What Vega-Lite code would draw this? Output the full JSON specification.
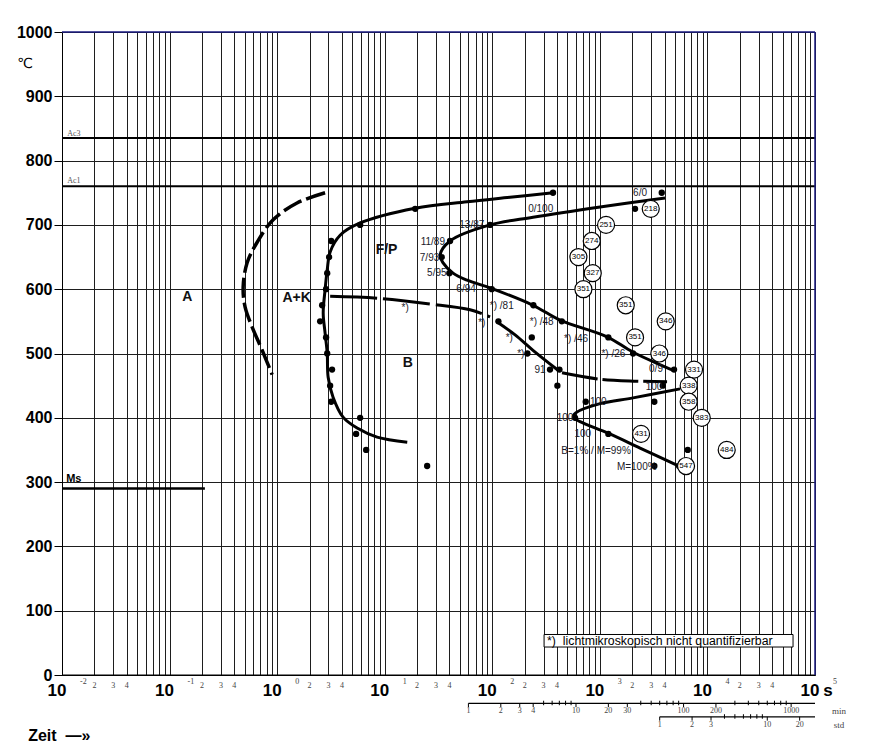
{
  "$schema": "https://vega.github.io/schema/vega-lite/v6.json",
  "width": 753,
  "height": 643,
  "autosize": {"type": "none"},
  "padding": {"left": 62, "top": 32, "right": 62, "bottom": 77},
  "background": "white",
  "config": {"view": {"stroke": null}, "font": "Liberation Sans"},
  "datasets": {
    "curves": [
      {"c": "A", "i": 0, "t": 2.79, "T": 750}, {"c": "A", "i": 1, "t": 1.53, "T": 734}, {"c": "A", "i": 2, "t": 0.918, "T": 708}, {"c": "A", "i": 3, "t": 0.652, "T": 673}, {"c": "A", "i": 4, "t": 0.526, "T": 641}, {"c": "A", "i": 5, "t": 0.483, "T": 603}, {"c": "A", "i": 6, "t": 0.504, "T": 572}, {"c": "A", "i": 7, "t": 0.586, "T": 541}, {"c": "A", "i": 8, "t": 0.726, "T": 505}, {"c": "A", "i": 9, "t": 0.899, "T": 467},
      {"c": "FP", "i": 0, "t": 367, "T": 750}, {"c": "FP", "i": 1, "t": 146, "T": 743}, {"c": "FP", "i": 2, "t": 58.3, "T": 736}, {"c": "FP", "i": 3, "t": 19.2, "T": 726}, {"c": "FP", "i": 4, "t": 5.91, "T": 703}, {"c": "FP", "i": 5, "t": 3.85, "T": 684}, {"c": "FP", "i": 6, "t": 3.11, "T": 658}, {"c": "FP", "i": 7, "t": 2.92, "T": 630}, {"c": "FP", "i": 8, "t": 2.79, "T": 599}, {"c": "FP", "i": 9, "t": 2.68, "T": 563}, {"c": "FP", "i": 10, "t": 2.79, "T": 532}, {"c": "FP", "i": 11, "t": 2.92, "T": 501}, {"c": "FP", "i": 12, "t": 2.98, "T": 463}, {"c": "FP", "i": 13, "t": 3.31, "T": 432}, {"c": "FP", "i": 14, "t": 4.1, "T": 401}, {"c": "FP", "i": 15, "t": 5.54, "T": 384}, {"c": "FP", "i": 16, "t": 8.49, "T": 370}, {"c": "FP", "i": 17, "t": 16.2, "T": 362},
      {"c": "FPend", "i": 0, "t": 4036, "T": 742}, {"c": "FPend", "i": 1, "t": 1005, "T": 728}, {"c": "FPend", "i": 2, "t": 239, "T": 712}, {"c": "FPend", "i": 3, "t": 95.4, "T": 700}, {"c": "FPend", "i": 4, "t": 40.5, "T": 675}, {"c": "FPend", "i": 5, "t": 32.7, "T": 653}, {"c": "FPend", "i": 6, "t": 34.9, "T": 641}, {"c": "FPend", "i": 7, "t": 43.2, "T": 625}, {"c": "FPend", "i": 8, "t": 58.4, "T": 614}, {"c": "FPend", "i": 9, "t": 95.4, "T": 602}, {"c": "FPend", "i": 10, "t": 239, "T": 575}, {"c": "FPend", "i": 11, "t": 426, "T": 552}, {"c": "FPend", "i": 12, "t": 1167, "T": 526}, {"c": "FPend", "i": 13, "t": 2037, "T": 502}, {"c": "FPend", "i": 14, "t": 4790, "T": 474},
      {"c": "Bsolid", "i": 0, "t": 111, "T": 549}, {"c": "Bsolid", "i": 1, "t": 163, "T": 529}, {"c": "Bsolid", "i": 2, "t": 239, "T": 505}, {"c": "Bsolid", "i": 3, "t": 409, "T": 474},
      {"c": "M", "i": 0, "t": 5565, "T": 445}, {"c": "M", "i": 1, "t": 2037, "T": 431}, {"c": "M", "i": 2, "t": 1005, "T": 422}, {"c": "M", "i": 3, "t": 601, "T": 408}, {"c": "M", "i": 4, "t": 564, "T": 401}, {"c": "M", "i": 5, "t": 655, "T": 394}, {"c": "M", "i": 6, "t": 1191, "T": 376}, {"c": "M", "i": 7, "t": 2364, "T": 353}, {"c": "M", "i": 8, "t": 5565, "T": 324},
      {"c": "Bdash1", "i": 0, "t": 3.11, "T": 589}, {"c": "Bdash1", "i": 1, "t": 8.49, "T": 586}, {"c": "Bdash1", "i": 2, "t": 26.4, "T": 577}, {"c": "Bdash1", "i": 3, "t": 62.2, "T": 568}, {"c": "Bdash1", "i": 4, "t": 95.4, "T": 557},
      {"c": "Bdash2", "i": 0, "t": 445, "T": 470}, {"c": "Bdash2", "i": 1, "t": 1005, "T": 460}, {"c": "Bdash2", "i": 2, "t": 2219, "T": 457}, {"c": "Bdash2", "i": 3, "t": 4215, "T": 456}
    ],
    "dots": [
      {"t": 3.18, "T": 675}, {"t": 3.04, "T": 650}, {"t": 2.92, "T": 625}, {"t": 2.85, "T": 600}, {"t": 2.62, "T": 575}, {"t": 2.51, "T": 550}, {"t": 2.85, "T": 525}, {"t": 2.92, "T": 500}, {"t": 3.24, "T": 475}, {"t": 3.11, "T": 450}, {"t": 3.18, "T": 425}, {"t": 5.91, "T": 400}, {"t": 5.42, "T": 375}, {"t": 6.72, "T": 350}, {"t": 24.8, "T": 325},
      {"t": 367, "T": 750}, {"t": 19.2, "T": 725}, {"t": 5.91, "T": 700},
      {"t": 3760, "T": 750}, {"t": 2124, "T": 725},
      {"t": 95.4, "T": 700}, {"t": 40.5, "T": 675}, {"t": 33.9, "T": 650}, {"t": 39.9, "T": 625}, {"t": 98.9, "T": 600}, {"t": 241, "T": 575}, {"t": 443, "T": 550}, {"t": 1199, "T": 525}, {"t": 2037, "T": 500}, {"t": 4895, "T": 475},
      {"t": 114, "T": 550}, {"t": 233, "T": 525}, {"t": 212, "T": 500}, {"t": 344, "T": 475}, {"t": 421, "T": 475}, {"t": 403, "T": 450},
      {"t": 3845, "T": 450}, {"t": 739, "T": 425}, {"t": 3210, "T": 425}, {"t": 588, "T": 400}, {"t": 1199, "T": 375}, {"t": 6560, "T": 350}, {"t": 3210, "T": 325}, {"t": 5450, "T": 325}
    ],
    "hard": [
      {"t": 2972, "T": 725, "hv": "218"}, {"t": 1142, "T": 700, "hv": "251"}, {"t": 841, "T": 675, "hv": "274"}, {"t": 632, "T": 650, "hv": "305"}, {"t": 859, "T": 625, "hv": "327"}, {"t": 703, "T": 600, "hv": "351"}, {"t": 1741, "T": 575, "hv": "351"}, {"t": 4095, "T": 550, "hv": "346"}, {"t": 2124, "T": 525, "hv": "351"}, {"t": 3573, "T": 500, "hv": "346"}, {"t": 7505, "T": 475, "hv": "331"}, {"t": 6696, "T": 450, "hv": "338"}, {"t": 6696, "T": 425, "hv": "358"}, {"t": 8854, "T": 400, "hv": "383"}, {"t": 2415, "T": 375, "hv": "431"}, {"t": 15110, "T": 350, "hv": "484"}, {"t": 6327, "T": 325, "hv": "547"}
    ],
    "phase": [
      {"t": 2364, "T": 749, "s": "6/0"}, {"t": 282, "T": 724, "s": "0/100"}, {"t": 64.5, "T": 700, "s": "13/87"}, {"t": 28, "T": 674, "s": "11/89"}, {"t": 26.1, "T": 648, "s": "7/93"}, {"t": 30.5, "T": 625, "s": "5/95"}, {"t": 57.1, "T": 600, "s": "6/94"}, {"t": 122.5, "T": 574, "s": "*) /81"}, {"t": 79.9, "T": 547, "s": "*)"}, {"t": 288, "T": 548.5, "s": "*) /48"}, {"t": 144, "T": 524.6, "s": "*)"}, {"t": 601, "T": 522.5, "s": "*) /46"}, {"t": 184, "T": 500, "s": "*)"}, {"t": 1336, "T": 498.6, "s": "*) /26"}, {"t": 278, "T": 474, "s": "91"}, {"t": 3327, "T": 475.4, "s": "0/9"}, {"t": 3190, "T": 448.4, "s": "100"}, {"t": 968, "T": 425, "s": "100"}, {"t": 475, "T": 399, "s": "100"}, {"t": 693, "T": 375, "s": "100"}, {"t": 922, "T": 348.8, "s": "B=1% / M=99%"}, {"t": 2203, "T": 324, "s": "M=100%"}, {"t": 15.5, "T": 570, "s": "*)"}
    ],
    "regions": [
      {"t": 0.146, "T": 588, "s": "A"}, {"t": 1.52, "T": 587, "s": "A+K"}, {"t": 10.4, "T": 661, "s": "F/P"}, {"t": 16.4, "T": 486, "s": "B"}
    ],
    "xdec": [
      {"t": 0.01, "e": "-2"}, {"t": 0.1, "e": "-1"}, {"t": 1, "e": "0"}, {"t": 10, "e": "1"}, {"t": 100, "e": "2"}, {"t": 1000, "e": "3"}, {"t": 10000, "e": "4"}, {"t": 100000, "e": "5"}
    ],
    "xsmall": [
      {"t": 0.02, "l": "2"}, {"t": 0.03, "l": "3"}, {"t": 0.04, "l": "4"},
      {"t": 0.2, "l": "2"}, {"t": 0.3, "l": "3"}, {"t": 0.4, "l": "4"},
      {"t": 2, "l": "2"}, {"t": 3, "l": "3"}, {"t": 4, "l": "4"},
      {"t": 20, "l": "2"}, {"t": 30, "l": "3"}, {"t": 40, "l": "4"},
      {"t": 200, "l": "2"}, {"t": 300, "l": "3"}, {"t": 400, "l": "4"},
      {"t": 2000, "l": "2"}, {"t": 3000, "l": "3"}, {"t": 4000, "l": "4"},
      {"t": 20000, "l": "2"}, {"t": 30000, "l": "3"}, {"t": 40000, "l": "4"}
    ],
    "minmaj": [
      {"t": 60, "l": "1"}, {"t": 120, "l": "2"}, {"t": 180, "l": "3"}, {"t": 240, "l": "4"}, {"t": 600, "l": "10"}, {"t": 1200, "l": "20"}, {"t": 1800, "l": "30"}, {"t": 6000, "l": "100"}, {"t": 12000, "l": "200"}, {"t": 60000, "l": "1000"}
    ],
    "minmin": [
      {"t": 300}, {"t": 360}, {"t": 420}, {"t": 480}, {"t": 540}, {"t": 2400}, {"t": 3000}, {"t": 3600}, {"t": 4200}, {"t": 4800}, {"t": 5400}, {"t": 18000}, {"t": 24000}, {"t": 30000}, {"t": 36000}, {"t": 42000}, {"t": 48000}, {"t": 54000}
    ],
    "stdmaj": [
      {"t": 3600, "l": "1"}, {"t": 7200, "l": "2"}, {"t": 10800, "l": "3"}, {"t": 36000, "l": "10"}, {"t": 72000, "l": "20"}
    ],
    "stdmin": [
      {"t": 14400}, {"t": 18000}, {"t": 21600}, {"t": 25200}, {"t": 28800}, {"t": 32400}
    ]
  },
  "layer": [
    {
      "data": {"values": [{"t": 0.01, "t2": 100000, "T": 0}]},
      "mark": {"type": "rule", "color": "#000", "strokeWidth": 1},
      "encoding": {
        "x": {"field": "t", "type": "quantitative", "scale": {"type": "log", "domain": [0.01, 100000], "nice": false},
          "axis": {"title": null, "labels": false, "ticks": false, "domain": true, "domainColor": "#000", "grid": true, "gridColor": "#1e1e1e", "gridWidth": 1, "gridOpacity": 1,
            "values": [0.01, 0.02, 0.03, 0.04, 0.05, 0.06, 0.07, 0.08, 0.09, 0.1, 0.2, 0.3, 0.4, 0.5, 0.6, 0.7, 0.8, 0.9, 1, 2, 3, 4, 5, 6, 7, 8, 9, 10, 20, 30, 40, 50, 60, 70, 80, 90, 100, 200, 300, 400, 500, 600, 700, 800, 900, 1000, 2000, 3000, 4000, 5000, 6000, 7000, 8000, 9000, 10000, 20000, 30000, 40000, 50000, 60000, 70000, 80000, 90000, 100000]}},
        "x2": {"field": "t2"},
        "y": {"field": "T", "type": "quantitative", "scale": {"domain": [0, 1000], "nice": false, "zero": false},
          "axis": {"title": null, "format": "d", "values": [0, 100, 200, 300, 400, 500, 600, 700, 800, 900, 1000], "grid": true, "gridColor": "#1e1e1e", "gridWidth": 1, "gridOpacity": 1, "labelFont": "Liberation Sans", "labelFontWeight": "bold", "labelFontSize": 16, "labelColor": "#000", "tickSize": 8, "tickColor": "#000", "tickWidth": 1, "labelPadding": 2, "domainColor": "#000", "domainWidth": 1}}
      }
    },
    {
      "data": {"values": [{"T": 835, "n": "Ac3"}, {"T": 760, "n": "Ac1"}]},
      "mark": {"type": "rule", "color": "#000", "strokeWidth": 2},
      "encoding": {
        "y": {"field": "T", "type": "quantitative"}
      }
    },
    {
      "data": {"values": [{"T": 1000}]},
      "mark": {"type": "rule", "color": "#1a1a80", "strokeWidth": 1.5},
      "encoding": {"y": {"field": "T", "type": "quantitative"}}
    },
    {
      "data": {"values": [{"t": 100000}]},
      "mark": {"type": "rule", "color": "#1a1a80", "strokeWidth": 1.5},
      "encoding": {"x": {"field": "t", "type": "quantitative"}}
    },
    {
      "data": {"values": [{"t": 0.01, "t2": 0.213, "T": 290}]},
      "mark": {"type": "rule", "color": "#000", "strokeWidth": 2.5},
      "encoding": {
        "x": {"field": "t", "type": "quantitative"},
        "x2": {"field": "t2"},
        "y": {"field": "T", "type": "quantitative"}
      }
    },
    {
      "data": {"values": [{"t": 0.01117, "T": 842, "s": "Ac3"}, {"t": 0.01117, "T": 767.5, "s": "Ac1"}]},
      "mark": {"type": "text", "align": "left", "font": "Liberation Serif", "fontSize": 8, "color": "#555"},
      "encoding": {
        "x": {"field": "t", "type": "quantitative"},
        "y": {"field": "T", "type": "quantitative"},
        "text": {"field": "s"}
      }
    },
    {
      "data": {"values": [{"t": 0.01094, "T": 305, "s": "Ms"}]},
      "mark": {"type": "text", "align": "left", "fontSize": 11, "fontWeight": "bold", "color": "#000"},
      "encoding": {
        "x": {"field": "t", "type": "quantitative"},
        "y": {"field": "T", "type": "quantitative"},
        "text": {"field": "s"}
      }
    },
    {
      "data": {"name": "curves"},
      "transform": [{"filter": "datum.c === 'FP' || datum.c === 'FPend' || datum.c === 'Bsolid' || datum.c === 'M'"}],
      "mark": {"type": "line", "color": "#000", "strokeWidth": 3, "interpolate": "catmull-rom"},
      "encoding": {
        "x": {"field": "t", "type": "quantitative"},
        "y": {"field": "T", "type": "quantitative"},
        "detail": {"field": "c"},
        "order": {"field": "i", "type": "quantitative"}
      }
    },
    {
      "data": {"name": "curves"},
      "transform": [{"filter": "datum.c === 'A'"}],
      "mark": {"type": "line", "color": "#000", "strokeWidth": 3.5, "strokeDash": [20, 5], "interpolate": "catmull-rom"},
      "encoding": {
        "x": {"field": "t", "type": "quantitative"},
        "y": {"field": "T", "type": "quantitative"},
        "order": {"field": "i", "type": "quantitative"}
      }
    },
    {
      "data": {"name": "curves"},
      "transform": [{"filter": "datum.c === 'Bdash1'"}],
      "mark": {"type": "line", "color": "#000", "strokeWidth": 3, "strokeDash": [47, 6], "interpolate": "catmull-rom"},
      "encoding": {
        "x": {"field": "t", "type": "quantitative"},
        "y": {"field": "T", "type": "quantitative"},
        "order": {"field": "i", "type": "quantitative"}
      }
    },
    {
      "data": {"name": "curves"},
      "transform": [{"filter": "datum.c === 'Bdash2'"}],
      "mark": {"type": "line", "color": "#000", "strokeWidth": 3, "strokeDash": [36, 5], "interpolate": "catmull-rom"},
      "encoding": {
        "x": {"field": "t", "type": "quantitative"},
        "y": {"field": "T", "type": "quantitative"},
        "order": {"field": "i", "type": "quantitative"}
      }
    },
    {
      "data": {"name": "dots"},
      "mark": {"type": "point", "shape": "circle", "filled": true, "color": "#000", "size": 40, "opacity": 1},
      "encoding": {
        "x": {"field": "t", "type": "quantitative"},
        "y": {"field": "T", "type": "quantitative"}
      }
    },
    {
      "data": {"name": "hard"},
      "mark": {"type": "point", "shape": "circle", "filled": true, "fill": "#fff", "stroke": "#000", "strokeWidth": 1.2, "size": 290, "opacity": 1, "fillOpacity": 1},
      "encoding": {
        "x": {"field": "t", "type": "quantitative"},
        "y": {"field": "T", "type": "quantitative"}
      }
    },
    {
      "data": {"name": "hard"},
      "mark": {"type": "text", "fontSize": 8, "color": "#000"},
      "encoding": {
        "x": {"field": "t", "type": "quantitative"},
        "y": {"field": "T", "type": "quantitative"},
        "text": {"field": "hv"}
      }
    },
    {
      "data": {"name": "phase"},
      "mark": {"type": "text", "fontSize": 10, "color": "#1a1a2a"},
      "encoding": {
        "x": {"field": "t", "type": "quantitative"},
        "y": {"field": "T", "type": "quantitative"},
        "text": {"field": "s"}
      }
    },
    {
      "data": {"name": "regions"},
      "mark": {"type": "text", "fontSize": 14, "fontWeight": "bold", "color": "#111"},
      "encoding": {
        "x": {"field": "t", "type": "quantitative"},
        "y": {"field": "T", "type": "quantitative"},
        "text": {"field": "s"}
      }
    },
    {
      "data": {"name": "xdec"},
      "mark": {"type": "text", "fontSize": 17, "fontWeight": "bold", "color": "#000", "dx": -5, "dy": 16},
      "encoding": {
        "x": {"field": "t", "type": "quantitative"},
        "y": {"datum": 0, "type": "quantitative"},
        "text": {"value": "10"}
      }
    },
    {
      "data": {"name": "xdec"},
      "mark": {"type": "text", "font": "Liberation Serif", "fontSize": 8, "color": "#444", "align": "left", "dx": 18, "dy": 7},
      "encoding": {
        "x": {"field": "t", "type": "quantitative"},
        "y": {"datum": 0, "type": "quantitative"},
        "text": {"field": "e"}
      }
    },
    {
      "data": {"name": "xsmall"},
      "mark": {"type": "text", "font": "Liberation Serif", "fontSize": 8, "color": "#444", "dy": 11},
      "encoding": {
        "x": {"field": "t", "type": "quantitative"},
        "y": {"datum": 0, "type": "quantitative"},
        "text": {"field": "l"}
      }
    },
    {
      "data": {"values": [{"t": 132000, "s": "s"}]},
      "mark": {"type": "text", "fontSize": 17, "fontWeight": "bold", "color": "#000", "dy": 16},
      "encoding": {
        "x": {"field": "t", "type": "quantitative"},
        "y": {"datum": 0, "type": "quantitative"},
        "text": {"field": "s"}
      }
    },
    {
      "data": {"values": [{"t": 60, "t2": 100000}]},
      "mark": {"type": "rule", "color": "#000", "strokeWidth": 1.2},
      "encoding": {
        "x": {"field": "t", "type": "quantitative"},
        "x2": {"field": "t2"},
        "y": {"datum": -44, "type": "quantitative"}
      }
    },
    {
      "data": {"name": "minmaj"},
      "mark": {"type": "rule", "color": "#000", "strokeWidth": 1},
      "encoding": {
        "x": {"field": "t", "type": "quantitative"},
        "y": {"datum": -44, "type": "quantitative"},
        "y2": {"datum": -50}
      }
    },
    {
      "data": {"name": "minmin"},
      "mark": {"type": "rule", "color": "#000", "strokeWidth": 1},
      "encoding": {
        "x": {"field": "t", "type": "quantitative"},
        "y": {"datum": -40, "type": "quantitative"},
        "y2": {"datum": -47}
      }
    },
    {
      "data": {"name": "minmaj"},
      "mark": {"type": "text", "font": "Liberation Serif", "fontSize": 8, "color": "#444"},
      "encoding": {
        "x": {"field": "t", "type": "quantitative"},
        "y": {"datum": -56, "type": "quantitative"},
        "text": {"field": "l"}
      }
    },
    {
      "data": {"values": [{"t": 3600, "t2": 100000}]},
      "mark": {"type": "rule", "color": "#000", "strokeWidth": 1.2},
      "encoding": {
        "x": {"field": "t", "type": "quantitative"},
        "x2": {"field": "t2"},
        "y": {"datum": -65, "type": "quantitative"}
      }
    },
    {
      "data": {"name": "stdmaj"},
      "mark": {"type": "rule", "color": "#000", "strokeWidth": 1},
      "encoding": {
        "x": {"field": "t", "type": "quantitative"},
        "y": {"datum": -65, "type": "quantitative"},
        "y2": {"datum": -71}
      }
    },
    {
      "data": {"name": "stdmin"},
      "mark": {"type": "rule", "color": "#000", "strokeWidth": 1},
      "encoding": {
        "x": {"field": "t", "type": "quantitative"},
        "y": {"datum": -61, "type": "quantitative"},
        "y2": {"datum": -68}
      }
    },
    {
      "data": {"name": "stdmaj"},
      "mark": {"type": "text", "font": "Liberation Serif", "fontSize": 8, "color": "#444"},
      "encoding": {
        "x": {"field": "t", "type": "quantitative"},
        "y": {"datum": -78, "type": "quantitative"},
        "text": {"field": "l"}
      }
    },
    {
      "data": {"values": [{"t": 167000, "T": -56, "s": "min"}, {"t": 167000, "T": -78, "s": "std"}]},
      "mark": {"type": "text", "font": "Liberation Serif", "fontSize": 9, "color": "#444"},
      "encoding": {
        "x": {"field": "t", "type": "quantitative"},
        "y": {"field": "T", "type": "quantitative"},
        "text": {"field": "s"}
      }
    },
    {
      "data": {"values": [{"t": 0.00485, "T": -95, "s": "Zeit\u00a0 —»"}]},
      "mark": {"type": "text", "align": "left", "fontSize": 16, "fontWeight": "bold", "color": "#000"},
      "encoding": {
        "x": {"field": "t", "type": "quantitative"},
        "y": {"field": "T", "type": "quantitative"},
        "text": {"field": "s"}
      }
    },
    {
      "data": {"values": [{"t": 0.00455, "T": 950, "s": "℃"}]},
      "mark": {"type": "text", "font": "DejaVu Sans", "fontSize": 14, "color": "#000"},
      "encoding": {
        "x": {"field": "t", "type": "quantitative"},
        "y": {"field": "T", "type": "quantitative"},
        "text": {"field": "s"}
      }
    },
    {
      "data": {"values": [{"t": 303, "t2": 62500, "T": 43.5, "T2": 63}]},
      "mark": {"type": "rect", "fill": "#fff", "stroke": "#000", "strokeWidth": 1},
      "encoding": {
        "x": {"field": "t", "type": "quantitative"},
        "x2": {"field": "t2"},
        "y": {"field": "T", "type": "quantitative"},
        "y2": {"field": "T2"}
      }
    },
    {
      "data": {"values": [{"t": 323, "T": 53.3, "s": "*)\u00a0 lichtmikroskopisch nicht quantifizierbar"}]},
      "mark": {"type": "text", "align": "left", "fontSize": 12.3, "color": "#000"},
      "encoding": {
        "x": {"field": "t", "type": "quantitative"},
        "y": {"field": "T", "type": "quantitative"},
        "text": {"field": "s"}
      }
    }
  ]
}
